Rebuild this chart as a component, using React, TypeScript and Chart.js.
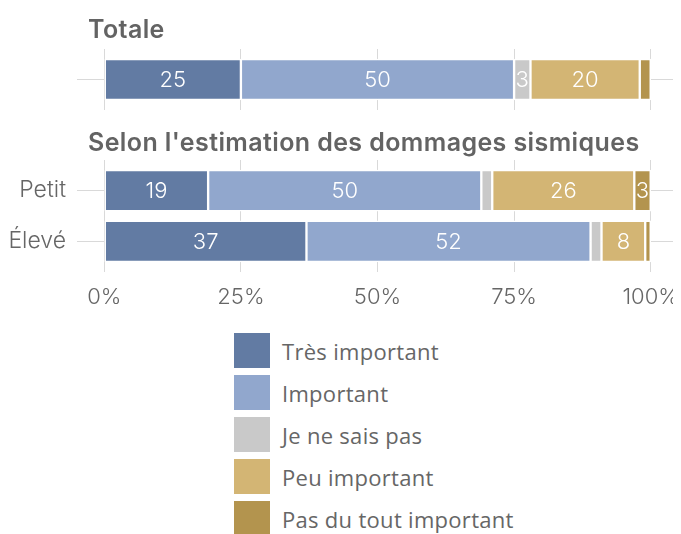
import React, { useEffect, useRef } from 'react';
import { Chart, registerables } from 'chart.js';

Chart.register(...registerables);

// ---- data ----
const sectionTitles = ['Totale', "Selon l'estimation des dommages sismiques"];
const categories = ['Totale', 'Petit', 'Élevé'];
const seriesNames = ['Très important', 'Important', 'Je ne sais pas', 'Peu important', 'Pas du tout important'];
const tresImportant = [25, 19, 37];
const important = [50, 50, 52];
const neSaisPas = [3, 2, 2];
const peuImportant = [20, 26, 8];
const pasDuTout = [2, 3, 1];
const xTickValues = [0, 25, 50, 75, 100];
const labelThreshold = 3;

const seriesValues = [tresImportant, important, neSaisPas, peuImportant, pasDuTout];
const seriesColors = ['#627ba3', '#91a7cd', '#c9c9c9', '#d3b574', '#b3944e'];

const FONT = 'Inter, Roboto, "Liberation Sans", sans-serif';
const LEGEND_FONT = '"Open Sans", Inter, sans-serif';
const TEXT = '#666666';
const TITLE = '#636363';
const GRID = '#d9d9d9';

const overlayPlugin = {
  id: 'overlay',
  afterDatasetsDraw(chart: any, _args: any, opts: any) {
    const ctx = chart.ctx;
    ctx.save();
    ctx.font = `300 22px ${FONT}`;
    ctx.fillStyle = '#ffffff';
    ctx.textAlign = 'center';
    ctx.textBaseline = 'middle';
    chart.data.datasets.forEach((ds: any, di: number) => {
      const meta = chart.getDatasetMeta(di);
      meta.data.forEach((el: any, i: number) => {
        const v = ds.data[i].x;
        if (v < labelThreshold) return;
        const p = el.getCenterPoint();
        ctx.fillText(String(v), p.x, p.y + 1);
      });
    });
    ctx.font = `600 25px ${FONT}`;
    ctx.fillStyle = TITLE;
    ctx.textAlign = 'left';
    ctx.textBaseline = 'alphabetic';
    try {
      ctx.letterSpacing = '0.4px';
    } catch (e) {}
    ctx.fillText(opts.title, opts.titleX, opts.titleY);
    ctx.restore();
  },
};

function makeConfig(rows: number[], title: string, showX: boolean, showY: boolean, padTop: number, padBottom: number, titleY: number): any {
  return {
    type: 'bar',
    data: {
      datasets: seriesNames.map((name, s) => ({
        label: name,
        data: rows.map((r, i) => ({ x: seriesValues[s][r], y: i })),
        backgroundColor: seriesColors[s],
        borderColor: '#ffffff',
        borderWidth: 1.5,
        borderSkipped: false,
        barThickness: 41,
      })),
    },
    options: {
      indexAxis: 'y',
      animation: false,
      responsive: false,
      layout: { padding: { top: padTop, bottom: padBottom, left: 0, right: 3 } },
      scales: {
        x: {
          type: 'linear',
          stacked: true,
          offset: false,
          min: -5,
          max: 105,
          afterBuildTicks: (s: any) => {
            s.ticks = xTickValues.map((v) => ({ value: v }));
          },
          afterFit: (s: any) => {
            s.height = showX ? 48 : 0;
            s.paddingLeft = 0;
            s.paddingRight = 0;
          },
          grid: { color: GRID, lineWidth: 1, drawTicks: false, offset: false },
          border: { display: false },
          ticks: {
            display: showX,
            autoSkip: false,
            maxRotation: 0,
            padding: 12,
            color: TEXT,
            font: { family: FONT, size: 22, weight: '300' },
            callback: (v: any) => `${v}%`,
          },
        },
        y: {
          type: 'linear',
          stacked: true,
          reverse: true,
          offset: false,
          min: -0.6,
          max: rows.length - 1 + 0.6,
          afterBuildTicks: (s: any) => {
            s.ticks = rows.map((_, i) => ({ value: i }));
          },
          afterFit: (s: any) => {
            s.width = 69;
            s.paddingTop = 0;
            s.paddingBottom = 0;
          },
          grid: { color: GRID, lineWidth: 1, drawTicks: false, offset: false },
          border: { display: false },
          ticks: {
            display: showY,
            padding: 11,
            color: TEXT,
            font: { family: FONT, size: 23, weight: '300' },
            callback: (_v: any, i: number) => categories[rows[i]],
          },
        },
      },
      plugins: {
        legend: { display: false },
        tooltip: { enabled: false },
        overlay: { title, titleX: 80, titleY },
      },
    },
    plugins: [overlayPlugin],
  };
}

export default function App() {
  const ref1 = useRef<HTMLCanvasElement>(null);
  const ref2 = useRef<HTMLCanvasElement>(null);

  useEffect(() => {
    const c1 = new Chart(ref1.current as any, makeConfig([0], sectionTitles[0], false, false, 41, 2, 30));
    const c2 = new Chart(ref2.current as any, makeConfig([1, 2], sectionTitles[1], true, true, 48, 0, 39));
    return () => {
      c1.destroy();
      c2.destroy();
    };
  }, []);

  return (
    <div style={{ width: 673 }}>
      <canvas ref={ref1} width={673} height={104} style={{ display: 'block' }} />
      <canvas ref={ref2} width={673} height={208} style={{ display: 'block' }} />
      <div style={{ marginLeft: 226, marginTop: 13 }}>
        {seriesNames.map((n, i) => (
          <div key={n} style={{ display: 'flex', alignItems: 'center', height: 35, marginBottom: 7 }}>
            <span style={{ display: 'inline-block', width: 36, height: 35, background: seriesColors[i] }} />
            <span style={{ marginLeft: 12, fontFamily: LEGEND_FONT, fontWeight: 400, fontSize: 22, letterSpacing: '0.3px', color: TEXT }}>{n}</span>
          </div>
        ))}
      </div>
    </div>
  );
}
